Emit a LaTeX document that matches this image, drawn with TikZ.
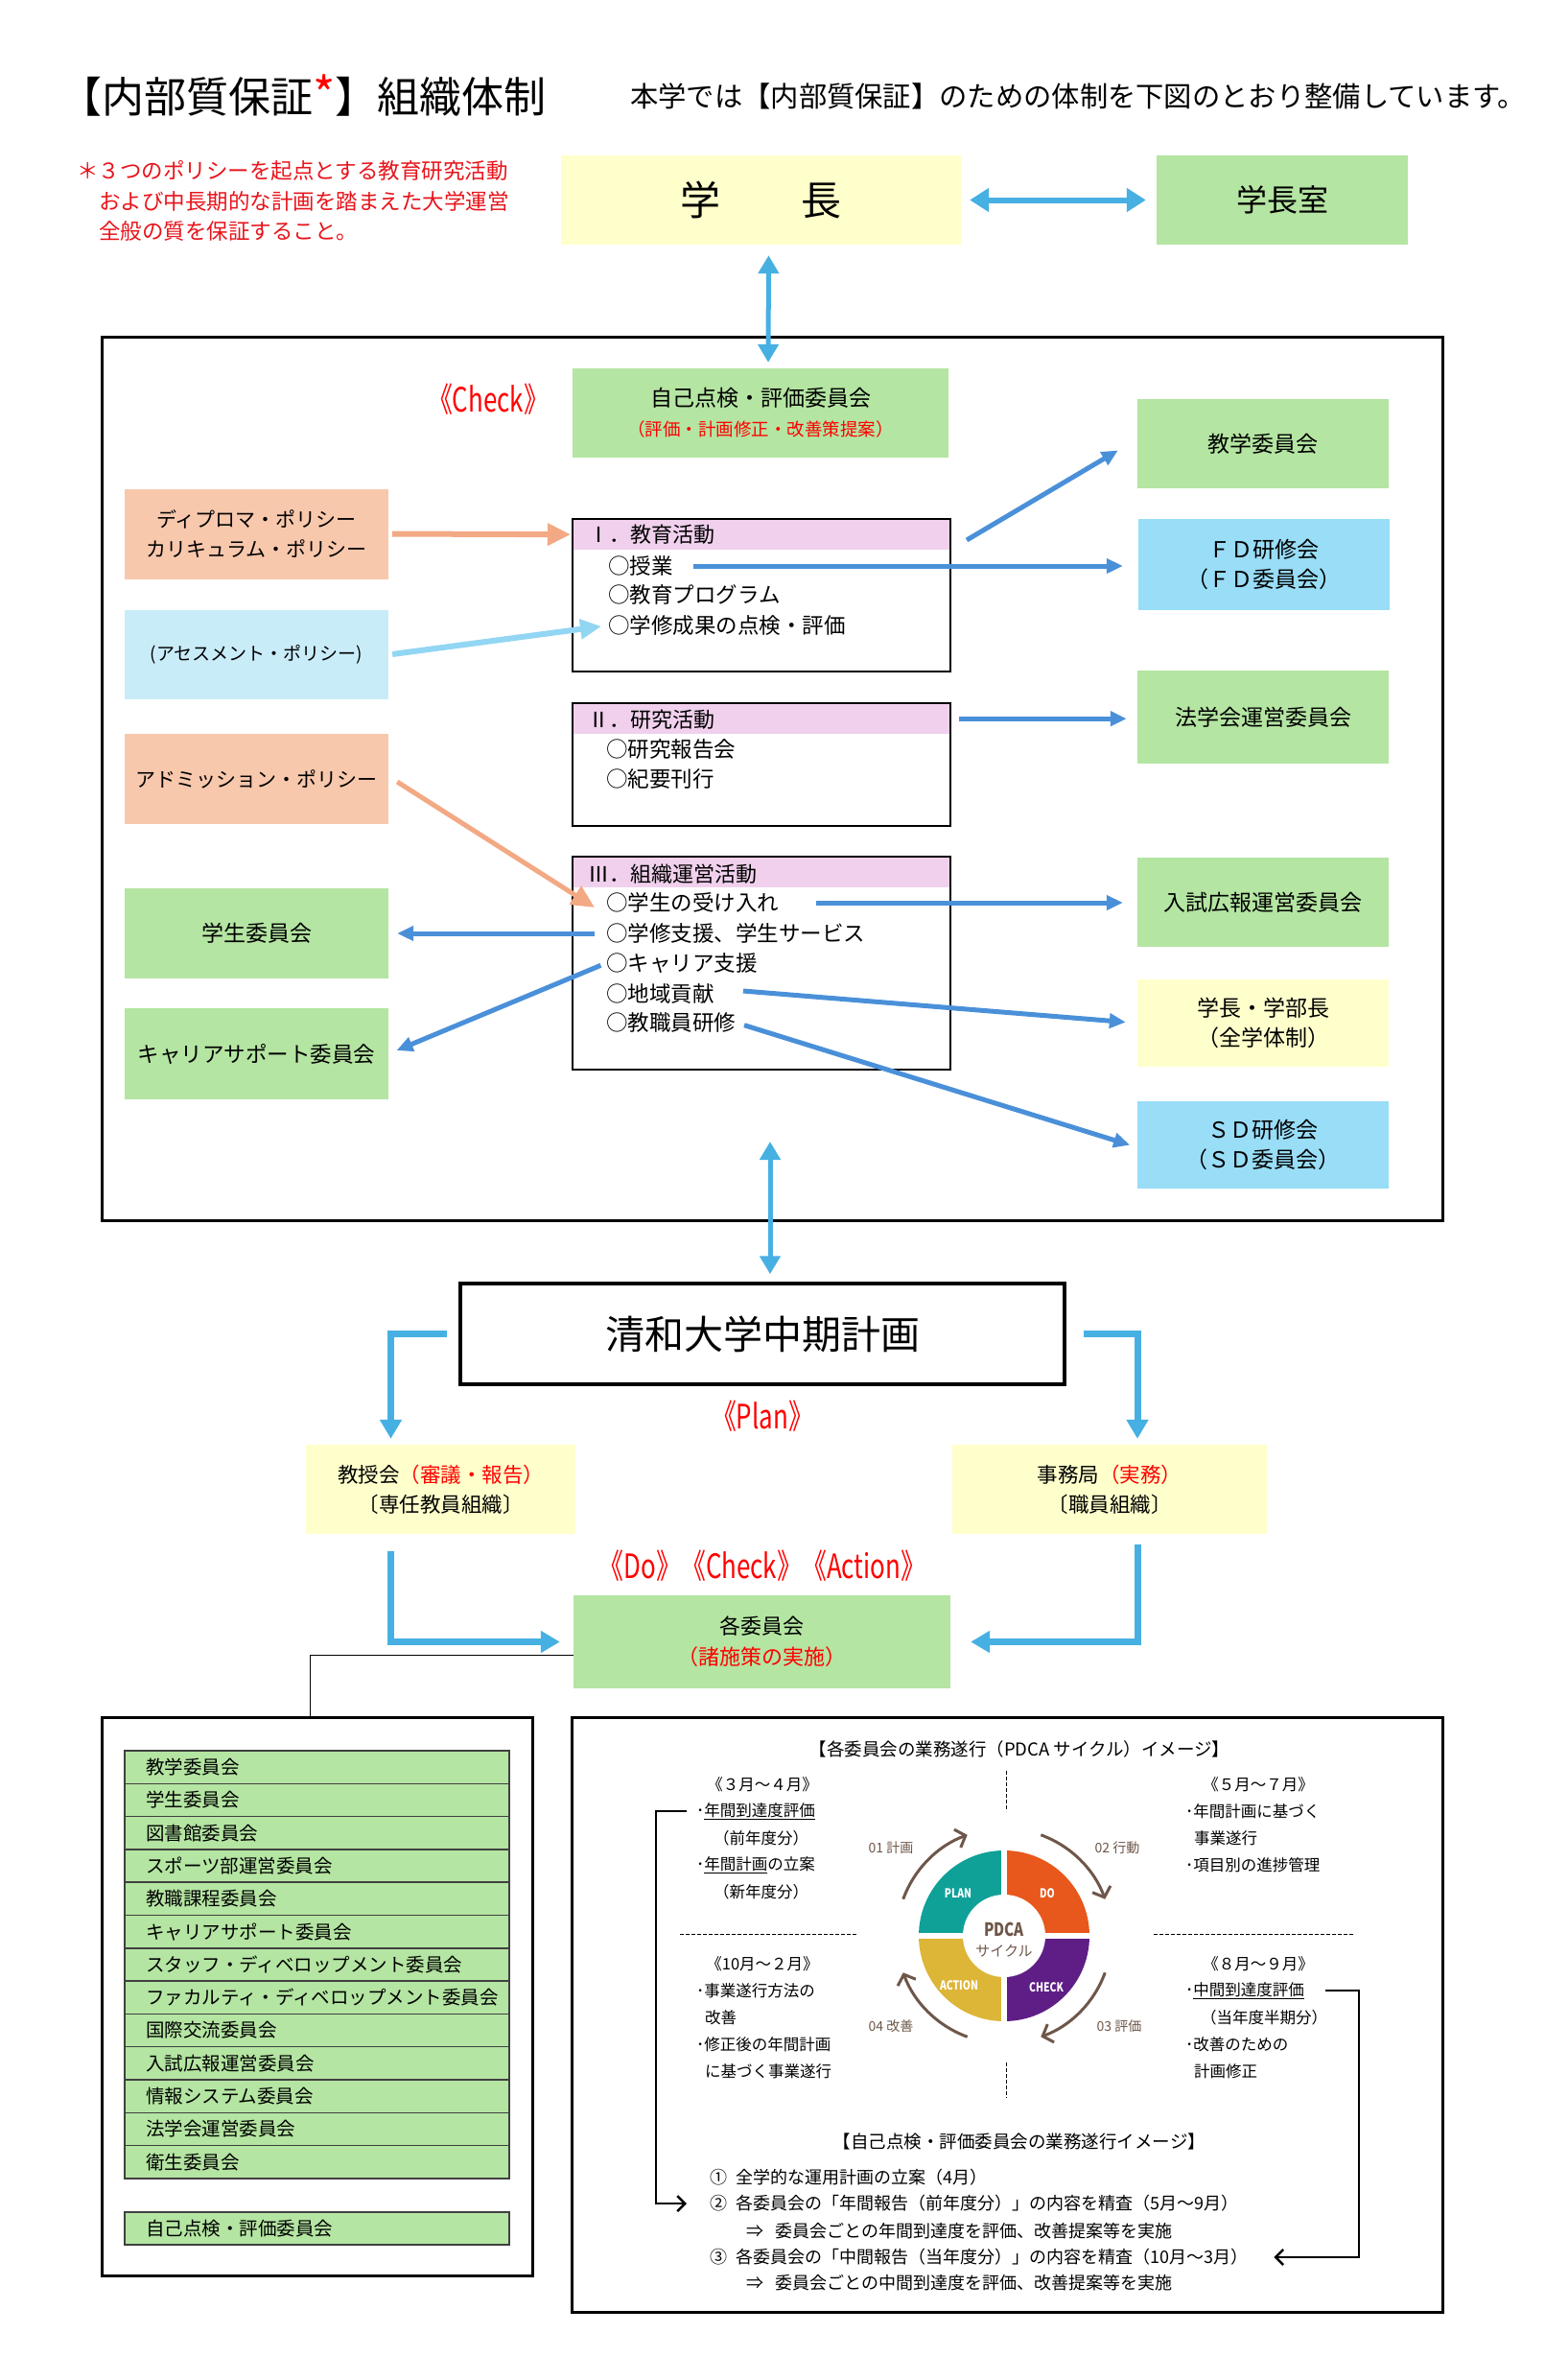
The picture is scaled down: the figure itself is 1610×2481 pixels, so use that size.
\documentclass[tikz,border=0pt]{standalone}
\usepackage{fontspec}
\usepackage{graphicx}
\setmainfont{Noto Sans CJK JP}
\usetikzlibrary{arrows.meta,positioning}

\definecolor{boxgreen}{HTML}{B4E5A2}
\definecolor{boxyellow}{HTML}{FFFFCC}
\definecolor{boxsalmon}{HTML}{F8C8AD}
\definecolor{boxsky}{HTML}{C9ECF9}
\definecolor{boxblue}{HTML}{99DDF7}
\definecolor{bandpink}{HTML}{F0D0EC}
\definecolor{arrowblue}{HTML}{4A90D9}
\definecolor{arrowcyan}{HTML}{47B0E2}
\definecolor{arrowsalmon}{HTML}{F2A984}
\definecolor{arrowsky}{HTML}{92D6F4}
\definecolor{notered}{HTML}{E8141B}
\definecolor{pdcateal}{HTML}{0FA197}
\definecolor{pdcaorange}{HTML}{E8571B}
\definecolor{pdcapurple}{HTML}{5F1E86}
\definecolor{pdcamustard}{HTML}{DDB537}
\definecolor{cyclebrown}{HTML}{6E574A}

\newcommand\fnt[2]{\fontsize{#1}{#2}\selectfont}
\newcommand\narrowtxt[1]{\scalebox{0.74}[1]{#1}}

\tikzset{
  panel/.style={inner sep=0pt, align=center, font={\fnt{23}{31}}},
  greenpanel/.style={panel, fill=boxgreen},
  yellowpanel/.style={panel, fill=boxyellow},
  salmonpanel/.style={panel, fill=boxsalmon},
  skypanel/.style={panel, fill=boxsky},
  bluepanel/.style={panel, fill=boxblue},
  rightpanel/.style={minimum width=262pt, minimum height=93pt},
  leftpanel/.style={minimum width=275pt, minimum height=94pt, font={\fnt{21}{31}}},
  actbox/.style={draw, line width=2pt, minimum width=394pt},
  actband/.style={fill=bandpink, minimum width=394pt, minimum height=32pt, anchor=north west},
  acthead/.style={anchor=west, font={\fnt{22}{28}}},
  actitem/.style={anchor=west, font={\fnt{22.5}{28}}},
  frame/.style={draw, line width=3pt},
  redtag/.style={text=red, font={\fnt{35}{40}}},
  blueflow/.style={draw=arrowblue, line width=5pt, -{Triangle[length=17pt,width=15pt]}},
  cyanlink/.style={draw=arrowcyan, line width=5pt, {Triangle[length=19pt,width=21pt]}-{Triangle[length=19pt,width=21pt]}},
  cyanflow/.style={draw=arrowcyan, line width=7pt, -{Triangle[length=20pt,width=22pt]}},
  salmonflow/.style={draw=arrowsalmon, line width=6pt, -{Triangle[length=24pt,width=22pt]}},
  skyflow/.style={draw=arrowsky, line width=6pt, -{Triangle[length=22pt,width=20pt]}},
  listrow/.style={draw=black!75, line width=1.5pt, fill=boxgreen, minimum width=401pt, minimum height=34.3pt,
    text width=357pt, align=left, inner xsep=22pt, font={\fnt{19.5}{24}}},
  memo/.style={anchor=west, font={\fnt{16.5}{20}}},
  monthhead/.style={font={\fnt{16.5}{20}}},
  report/.style={anchor=west, font={\fnt{18}{22}}},
  dashline/.style={line width=1pt, dash pattern=on 4pt off 2pt},
  memoarrow/.style={line width=2.5pt, -{Straight Barb[length=8pt,width=16pt]}},
  cyclearrow/.style={draw=cyclebrown, line width=3pt, -{Straight Barb[length=9pt,width=20pt]}},
  steplabel/.style={text=cyclebrown, font={\fnt{14}{16}}},
  wheellabel/.style={text=white, font={\bfseries\fnt{13}{16}}},
}

\begin{document}
\begin{tikzpicture}[x=1pt,y=-1pt, every node/.style={inner sep=0pt}]
	\fill[white] (0,0) rectangle (1610,2481);
	\useasboundingbox (0,0) rectangle (1610,2481);
	% Heading
	\node[anchor=west, font={\fnt{44}{50}}] (title) at (62,100) {【内部質保証{\color{red}\fnt{50}{50}*}】組織体制};
	\node[anchor=west, font={\fnt{29.3}{34}}] (lead) at (657,100) {本学では【内部質保証】のための体制を下図のとおり整備しています。};
	\node[anchor=west, font={\fnt{22.5}{30}}, text=notered] (note1) at (80,178) {＊３つのポリシーを起点とする教育研究活動};
	\node[anchor=west, font={\fnt{22.5}{30}}, text=notered] (note2) at (103,210) {および中長期的な計画を踏まえた大学運営};
	\node[anchor=west, font={\fnt{22.5}{30}}, text=notered] (note3) at (103,241) {全般の質を保証すること。};
	\node[yellowpanel, minimum width=417pt, minimum height=93pt, font={\fnt{42}{48}}] (gakucho) at (793.5,208.5) {学　　長};
	\node[greenpanel, rightpanel, font={\fnt{32}{38}}] (shitsu) at (1337,208.5) {学長室};
	\draw[cyanlink, line width=6pt, {Triangle[length=20pt,width=24pt]}-{Triangle[length=20pt,width=24pt]}, shorten <=9pt, shorten >=11pt] (gakucho) -- (shitsu);
	% Check frame
	\node[frame, minimum width=1398pt, minimum height=921pt] (upper) at (805,811.5) {};
	\node[redtag] (checktag) at (509,416) {\narrowtxt{《Check》}};
	\node[greenpanel, minimum width=392pt, minimum height=93pt] (jiko) at (793,430.5) {自己点検・評価委員会\\{\color{red}\fnt{18.5}{32}（評価・計画修正・改善策提案）}};
	\draw[cyanlink, shorten <=11pt, shorten >=6pt] ([xshift=8pt]gakucho.south) -- ([xshift=8pt]jiko.north);
	\node[greenpanel, rightpanel] (kyogaku) at (1317,462.5) {教学委員会};
	\node[salmonpanel, leftpanel] (diploma) at (267.5,556.5) {ディプロマ・ポリシー\\カリキュラム・ポリシー};
	\node[bluepanel, rightpanel, minimum height=95pt] (fd) at (1318,588.5) {ＦＤ研修会\\（ＦＤ委員会）};
	% I
	\node[actband] (kyoikuhd) at (597,541) {};
	\node[actbox, minimum height=159pt] (kyoiku) at (794,620.5) {};
	\node[acthead] (kyoikutt) at (613,557) {Ⅰ．教育活動};
	\node[actitem] (jugyo) at (634,590) {○授業};
	\node[actitem] (program) at (634,620) {○教育プログラム};
	\node[actitem] (seika) at (634,652) {○学修成果の点検・評価};
	\node[skypanel, leftpanel, minimum height=93pt, font={\fnt{19}{24}}] (assess) at (267.5,682.5) {(アセスメント・ポリシー)};
	\node[greenpanel, rightpanel, minimum height=97pt] (hougaku) at (1317,747.5) {法学会運営委員会};
	% II
	\node[actband] (kenkyuhd) at (597,733) {};
	\node[actbox, minimum height=128pt] (kenkyu) at (794,797) {};
	\node[acthead] (kenkyutt) at (613,750) {Ⅱ．研究活動};
	\node[actitem] (hokoku) at (632,781) {○研究報告会};
	\node[actitem] (kiyo) at (632,812) {○紀要刊行};
	\node[salmonpanel, leftpanel] (admission) at (267.5,812) {アドミッション・ポリシー};
	% III
	\node[actband] (soshikihd) at (597,893) {};
	\node[actbox, minimum height=222pt] (soshiki) at (794,1004) {};
	\node[acthead] (soshikitt) at (613,911) {Ⅲ．組織運営活動};
	\node[actitem] (ukeire) at (632,941) {○学生の受け入れ};
	\node[actitem] (shien) at (632,973) {○学修支援、学生サービス};
	\node[actitem] (careerit) at (632,1004) {○キャリア支援};
	\node[actitem] (chiiki) at (632,1036) {○地域貢献};
	\node[actitem] (kenshu) at (632,1066) {○教職員研修};
	\node[greenpanel, rightpanel] (nyushi) at (1317,940.5) {入試広報運営委員会};
	\node[greenpanel, leftpanel, font={\fnt{23}{31}}] (gakusei) at (267.5,972.5) {学生委員会};
	\node[yellowpanel, rightpanel, minimum height=91pt] (gakubu) at (1317,1066.5) {学長・学部長\\（全学体制）};
	\node[greenpanel, leftpanel, minimum height=95pt, font={\fnt{22.5}{31}}] (career) at (267.5,1098.5) {キャリアサポート委員会};
	\node[bluepanel, rightpanel, minimum height=91pt] (sd) at (1317,1193) {ＳＤ研修会\\（ＳＤ委員会）};
	% flows
	\draw[blueflow] ([xshift=16pt,yshift=-23pt]kyoiku.north east) -- ([xshift=-20pt,yshift=-7pt]kyogaku.west);
	\draw[blueflow, shorten <=21pt, shorten >=16pt] (jugyo.east) -- (jugyo.east -| fd.west);
	\draw[blueflow, shorten <=9pt, shorten >=11pt] (kenkyuhd.east) -- (kenkyuhd.east -| hougaku.west);
	\draw[blueflow, shorten <=39pt, shorten >=15pt] (ukeire.east) -- (ukeire.east -| nyushi.west);
	\draw[blueflow, shorten <=12pt, shorten >=9pt] (shien.west) -- (shien.west -| gakusei.east);
	\draw[blueflow, shorten <=6pt, shorten >=9pt] (careerit.west) -- (career.east);
	\draw[blueflow, shorten >=12pt] ([xshift=30pt,yshift=3pt]chiiki.east) -- (gakubu.west);
	\draw[blueflow, shorten <=9pt, shorten >=8pt] (kenshu.east) -- ([yshift=-3pt]sd.west);
	\draw[salmonflow, shorten <=4pt, shorten >=2pt] (diploma.east) -- (kyoikuhd.west);
	\draw[salmonflow, line width=5pt] ([xshift=9pt,yshift=-3pt]admission.east) -- ([xshift=-12pt,yshift=-5pt]ukeire.west);
	\draw[skyflow, shorten <=4pt, shorten >=7pt] (assess.east) -- (seika.west);
	% Plan
	\node[frame, line width=3.5pt, minimum width=630pt, minimum height=105pt, font={\fnt{41}{48}}] (keikaku) at (795,1390.5) {清和大学中期計画};
	\draw[cyanlink, shorten <=74pt, shorten >=8pt] ([xshift=9pt]soshiki.south) -- ([xshift=8pt]keikaku.north);
	\node[redtag] (plantag) at (795,1476) {\narrowtxt{《Plan》}};
	\node[yellowpanel, minimum width=281pt, minimum height=93pt, font={\fnt{21.5}{31}}] (kyojukai) at (459.5,1552.5) {教授会{\color{red}（審議・報告）}\\〔専任教員組織〕};
	\node[yellowpanel, minimum width=328pt, minimum height=93pt, font={\fnt{21.5}{31}}] (jimukyoku) at (1157,1552.5) {事務局{\color{red}（実務）}\\〔職員組織〕};
	\node[redtag] (dcatag) at (795,1632) {\narrowtxt{《Do》《Check》《Action》}};
	\node[greenpanel, minimum width=393pt, minimum height=97pt, font={\fnt{22}{32}}] (kakuiin) at (794.5,1711.5) {各委員会\\{\color{red}（諸施策の実施）}};
	\draw[cyanflow, shorten <=12pt, shorten >=6pt] (keikaku.west) -| ([xshift=-52pt]kyojukai.north);
	\draw[cyanflow, shorten <=18pt, shorten >=6pt] (keikaku.east) -| ([xshift=29pt]jimukyoku.north);
	\draw[cyanflow, shorten <=18pt, shorten >=14pt] ([xshift=-52pt]kyojukai.south) |- (kakuiin.west);
	\draw[cyanflow, shorten <=11pt, shorten >=21pt] ([xshift=29pt]jimukyoku.south) |- (kakuiin.east);
	% Committees
	\node[frame, minimum width=449pt, minimum height=582pt] (listframe) at (330.5,2081) {};
	\draw[line width=1.5pt] ([yshift=-14pt]kakuiin.west) -| ([xshift=-7pt]listframe.north);
	\foreach \iname [count=\i] in {教学委員会,学生委員会,図書館委員会,スポーツ部運営委員会,教職課程委員会,キャリアサポート委員会,スタッフ・ディベロップメント委員会,ファカルティ・ディベロップメント委員会,国際交流委員会,入試広報運営委員会,情報システム委員会,法学会運営委員会,衛生委員会}
		\node[listrow] (row\i) at (330.5,{1825+34.3*(\i-0.5)}) {\iname};
	\node[listrow] (rowjiko) at (330.5,2323) {自己点検・評価委員会};
	% PDCA image
	\node[frame, minimum width=908pt, minimum height=620pt] (pdcaframe) at (1050,2100) {};
	\node[font={\fnt{18.5}{22}}] (pdcatitle) at (1063,1823) {【各委員会の業務遂行（PDCA サイクル）イメージ】};
	\draw[dashline] (709,2016) -- (893,2016);
	\draw[dashline] (1203,2016) -- (1412,2016);
	\draw[dashline] (1049,1846) -- (1049,1888);
	\draw[dashline] (1049,2150) -- (1049,2187);
	\node[monthhead] (m34) at (795,1860) {《３月～４月》};
	\node[monthhead] (m57) at (1312,1860) {《５月～７月》};
	\node[monthhead] (m102) at (795,2047) {《10月～２月》};
	\node[monthhead] (m89) at (1312,2047) {《８月～９月》};
	\node[memo] (lt1) at (726,1888) {･\underline{年間到達度評価}};
	\node[memo] (lt2) at (744,1916) {（前年度分）};
	\node[memo] (lt3) at (726,1944) {･\underline{年間計画}の立案};
	\node[memo] (lt4) at (744,1972) {（新年度分）};
	\node[memo] (rt1) at (1236,1888) {･年間計画に基づく};
	\node[memo] (rt2) at (1245,1916) {事業遂行};
	\node[memo] (rt3) at (1236,1944) {･項目別の進捗管理};
	\node[memo] (lb1) at (726,2075) {･事業遂行方法の};
	\node[memo] (lb2) at (735,2103) {改善};
	\node[memo] (lb3) at (726,2131) {･修正後の年間計画};
	\node[memo] (lb4) at (735,2159) {に基づく事業遂行};
	\node[memo] (rb1) at (1236,2075) {･\underline{中間到達度評価}};
	\node[memo] (rb2) at (1252,2103) {（当年度半期分）};
	\node[memo] (rb3) at (1236,2131) {･改善のための};
	\node[memo] (rb4) at (1245,2159) {計画修正};
	\begin{scope}[shift={(1047,2018)}, yscale=-1]
		\fill[pdcateal] (0,0) -- (90:89) arc[start angle=90,end angle=180,radius=89] -- cycle;
		\fill[pdcaorange] (0,0) -- (0:89) arc[start angle=0,end angle=90,radius=89] -- cycle;
		\fill[pdcapurple] (0,0) -- (270:89) arc[start angle=270,end angle=360,radius=89] -- cycle;
		\fill[pdcamustard] (0,0) -- (180:89) arc[start angle=180,end angle=270,radius=89] -- cycle;
		\draw[white, line width=6pt] (-92,0) -- (92,0) (0,-92) -- (0,92);
		\fill[white] (0,0) circle[radius=43];
		\node[wheellabel] (plan) at (-48,44) {\scalebox{0.8}[1]{PLAN}};
		\node[wheellabel] (do) at (45,44) {\scalebox{0.8}[1]{DO}};
		\node[wheellabel] (action) at (-47,-52) {\scalebox{0.8}[1]{ACTION}};
		\node[wheellabel] (check) at (44,-54) {\scalebox{0.8}[1]{CHECK}};
		\node[text=cyclebrown, font={\bfseries\fnt{19}{22}}] (pdca) at (0,7) {\scalebox{0.8}[1]{PDCA}};
		\node[text=cyclebrown, font={\fnt{15}{18}}] (cycle) at (0,-16) {サイクル};
		\draw[cyclearrow] (160:112) arc[start angle=160,end angle=110,radius=112];
		\draw[cyclearrow] (70:112) arc[start angle=70,end angle=20,radius=112];
		\draw[cyclearrow] (-20:112) arc[start angle=-20,end angle=-70,radius=112];
		\draw[cyclearrow] (-110:112) arc[start angle=-110,end angle=-160,radius=112];
		\node[steplabel] (step1) at (-118,92) {01 計画};
		\node[steplabel] (step2) at (118,92) {02 行動};
		\node[steplabel] (step3) at (120,-94) {03 評価};
		\node[steplabel] (step4) at (-118,-94) {04 改善};
	\end{scope}
	% Self-check
	\node[font={\fnt{18.5}{22}}] (jikotitle) at (1063,2232) {【自己点検・評価委員会の業務遂行イメージ】};
	\node[report] (b1) at (740,2270) {①\hspace{9pt}全学的な運用計画の立案（4月）};
	\node[report] (b2) at (740,2297) {②\hspace{9pt}各委員会の「年間報告（前年度分）」の内容を精査（5月～9月）};
	\node[report] (b2s) at (778,2326) {⇒\hspace{12pt}委員会ごとの年間到達度を評価、改善提案等を実施};
	\node[report] (b3) at (740,2353) {③\hspace{9pt}各委員会の「中間報告（当年度分）」の内容を精査（10月～3月）};
	\node[report] (b3s) at (778,2380) {⇒\hspace{12pt}委員会ごとの中間到達度を評価、改善提案等を実施};
	\draw[memoarrow] ([xshift=-10pt]lt1.west) -- ++(-32,0) |- ([xshift=-24pt]b2.west);
	\draw[memoarrow] ([xshift=22pt]rb1.east) -- ++(35,0) |- ([xshift=27pt]b3.east);
\end{tikzpicture}
\end{document}
